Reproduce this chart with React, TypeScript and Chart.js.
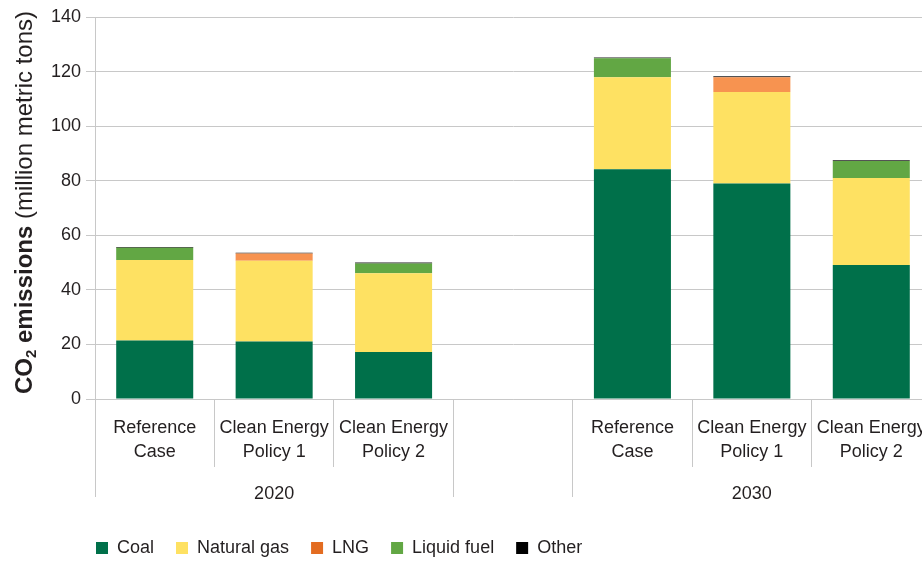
import React, { useEffect, useRef } from 'react';
import { Chart, registerables } from 'chart.js';

Chart.register(...registerables);

// ---------- data ----------
const categories: (string | string[])[] = [
  ['Reference', 'Case'],
  ['Clean Energy', 'Policy 1'],
  ['Clean Energy', 'Policy 2'],
  '',
  ['Reference', 'Case'],
  ['Clean Energy', 'Policy 1'],
  ['Clean Energy', 'Policy 2'],
];
const groupLabels = ['2020', '', '2030'];
const groupSpans = [3, 1, 3];

const seriesNames = ['Coal', 'Natural gas', 'LNG', 'Liquid fuel', 'Other'];
const coal = [21.4, 21.1, 17.2, null, 84.2, 79.0, 49.1];
const naturalGas = [29.5, 29.6, 28.9, null, 33.7, 33.5, 31.9];
const lng = [0, 2.6, 0, null, 0, 5.4, 0];
const liquidFuel = [4.5, 0, 3.6, null, 7.0, 0, 6.2];
const other = [0.3, 0.3, 0.3, null, 0.3, 0.4, 0.3];

const yMin = 0;
const yMax = 140;
const yStep = 20;

const yTitleBold = 'CO';
const yTitleSub = '2';
const yTitleBold2 = ' emissions';
const yTitleRegular = ' (million metric tons)';

// ---------- styles ----------
const barColors = ['#00704A', '#FEE162', '#F79350', '#62A744', '#1A1A1A'];
const legendColors = ['#00704A', '#FEE162', '#E36C21', '#62A744', '#000000'];
const gridColor = '#c8c8c8';
const textColor = '#231f20';
const sansFont = "'Liberation Sans', Arial, sans-serif";

const alignPx = (p: number) => Math.round(p - 0.5) + 0.5;

const axisDecor = {
  id: 'axisDecor',
  afterLayout(chart: any) {
    if (chart.legend) chart.legend.left = 74;
  },
  afterDraw(chart: any) {
    const ctx = chart.ctx as CanvasRenderingContext2D;
    const xs = chart.scales.x;
    const area = chart.chartArea;
    const slot = xs.getPixelForValue(1) - xs.getPixelForValue(0);
    const boundary = (i: number) => xs.getPixelForValue(i) - slot / 2;

    ctx.save();
    // long group divider lines
    ctx.strokeStyle = gridColor;
    ctx.lineWidth = 1;
    let idx = 0;
    const starts: number[] = [];
    groupSpans.forEach((s) => { starts.push(idx); idx += s; });
    starts.push(idx);
    starts.forEach((i) => {
      const px = alignPx(boundary(i));
      ctx.beginPath();
      ctx.moveTo(px, area.bottom);
      ctx.lineTo(px, area.bottom + 98);
      ctx.stroke();
    });
    // group labels
    ctx.fillStyle = textColor;
    ctx.font = `18px ${sansFont}`;
    ctx.textAlign = 'center';
    ctx.textBaseline = 'middle';
    idx = 0;
    groupLabels.forEach((g, k) => {
      const a = boundary(idx);
      const b = boundary(idx + groupSpans[k]);
      if (g) ctx.fillText(g, (a + b) / 2, area.bottom + 95);
      idx += groupSpans[k];
    });

    // y-axis title (rotated, mixed bold/regular)
    const boldF = `bold 24px ${sansFont}`;
    const subF = `bold 15px ${sansFont}`;
    const regF = `24px ${sansFont}`;
    ctx.font = boldF;
    const w1 = ctx.measureText(yTitleBold).width;
    const w3 = ctx.measureText(yTitleBold2).width;
    ctx.font = subF;
    const w2 = ctx.measureText(yTitleSub).width;
    ctx.font = regF;
    const w4 = ctx.measureText(yTitleRegular).width;
    const total = w1 + w2 + w3 + w4;
    ctx.translate(31.5, 202.5);
    ctx.rotate(-Math.PI / 2);
    ctx.textAlign = 'left';
    ctx.textBaseline = 'alphabetic';
    let cx = -total / 2;
    ctx.font = boldF;
    ctx.fillText(yTitleBold, cx, 0);
    cx += w1;
    ctx.font = subF;
    ctx.fillText(yTitleSub, cx, 4);
    cx += w2;
    ctx.font = boldF;
    ctx.fillText(yTitleBold2, cx, 0);
    cx += w3;
    ctx.font = regF;
    ctx.fillText(yTitleRegular, cx, 0);
    ctx.restore();
  },
};

export default function App() {
  const ref = useRef<HTMLCanvasElement>(null);

  useEffect(() => {
    if (!ref.current) return;
    const series = [coal, naturalGas, lng, liquidFuel, other];
    const chart = new Chart(ref.current, {
      type: 'bar',
      data: {
        labels: categories as any,
        datasets: series.map((d, i) => ({
          label: seriesNames[i],
          data: d as any,
          backgroundColor: barColors[i],
          borderWidth: 0,
          barPercentage: 0.645,
          categoryPercentage: 1,
        })),
      },
      options: {
        responsive: false,
        animation: false,
        layout: { padding: { left: 0, top: 17, right: 0, bottom: 0 } },
        plugins: {
          tooltip: { enabled: false },
          legend: {
            position: 'bottom',
            align: 'start',
            labels: {
              boxWidth: 12,
              boxHeight: 12,
              padding: 22,
              color: textColor,
              font: { family: sansFont, size: 18 },
              generateLabels: (c: any) => {
                const items = Chart.defaults.plugins.legend.labels.generateLabels(c);
                return items.map((it: any, i: number) => ({
                  ...it,
                  fillStyle: legendColors[i],
                  strokeStyle: legendColors[i],
                  lineWidth: 0,
                }));
              },
            },
          },
        },
        scales: {
          x: {
            stacked: true,
            grid: {
              offset: true,
              drawOnChartArea: false,
              tickLength: 68,
              color: gridColor,
            },
            border: { color: gridColor },
            ticks: {
              color: textColor,
              font: { family: sansFont, size: 18, lineHeight: 1.333 },
              padding: -51,
              maxRotation: 0,
              autoSkip: false,
            },
            afterFit: (s: any) => {
              s.height = 118;
              s.paddingLeft = 0;
              s.paddingRight = 0;
            },
          },
          y: {
            stacked: true,
            min: yMin,
            max: yMax,
            ticks: {
              stepSize: yStep,
              color: textColor,
              font: { family: sansFont, size: 18 },
              padding: 5,
            },
            grid: { color: gridColor, tickLength: 9 },
            border: { color: gridColor },
            afterFit: (s: any) => {
              s.width = 95;
              s.paddingTop = 0;
              s.paddingBottom = 0;
            },
          },
        },
      },
      plugins: [axisDecor],
    });
    return () => chart.destroy();
  }, []);

  return (
    <div
      style={{
        position: 'fixed',
        left: 0,
        top: 0,
        width: 922,
        height: 561,
        overflow: 'hidden',
        background: '#fff',
      }}
    >
      <canvas ref={ref} width={931} height={567} style={{ display: 'block' }} />
    </div>
  );
}
